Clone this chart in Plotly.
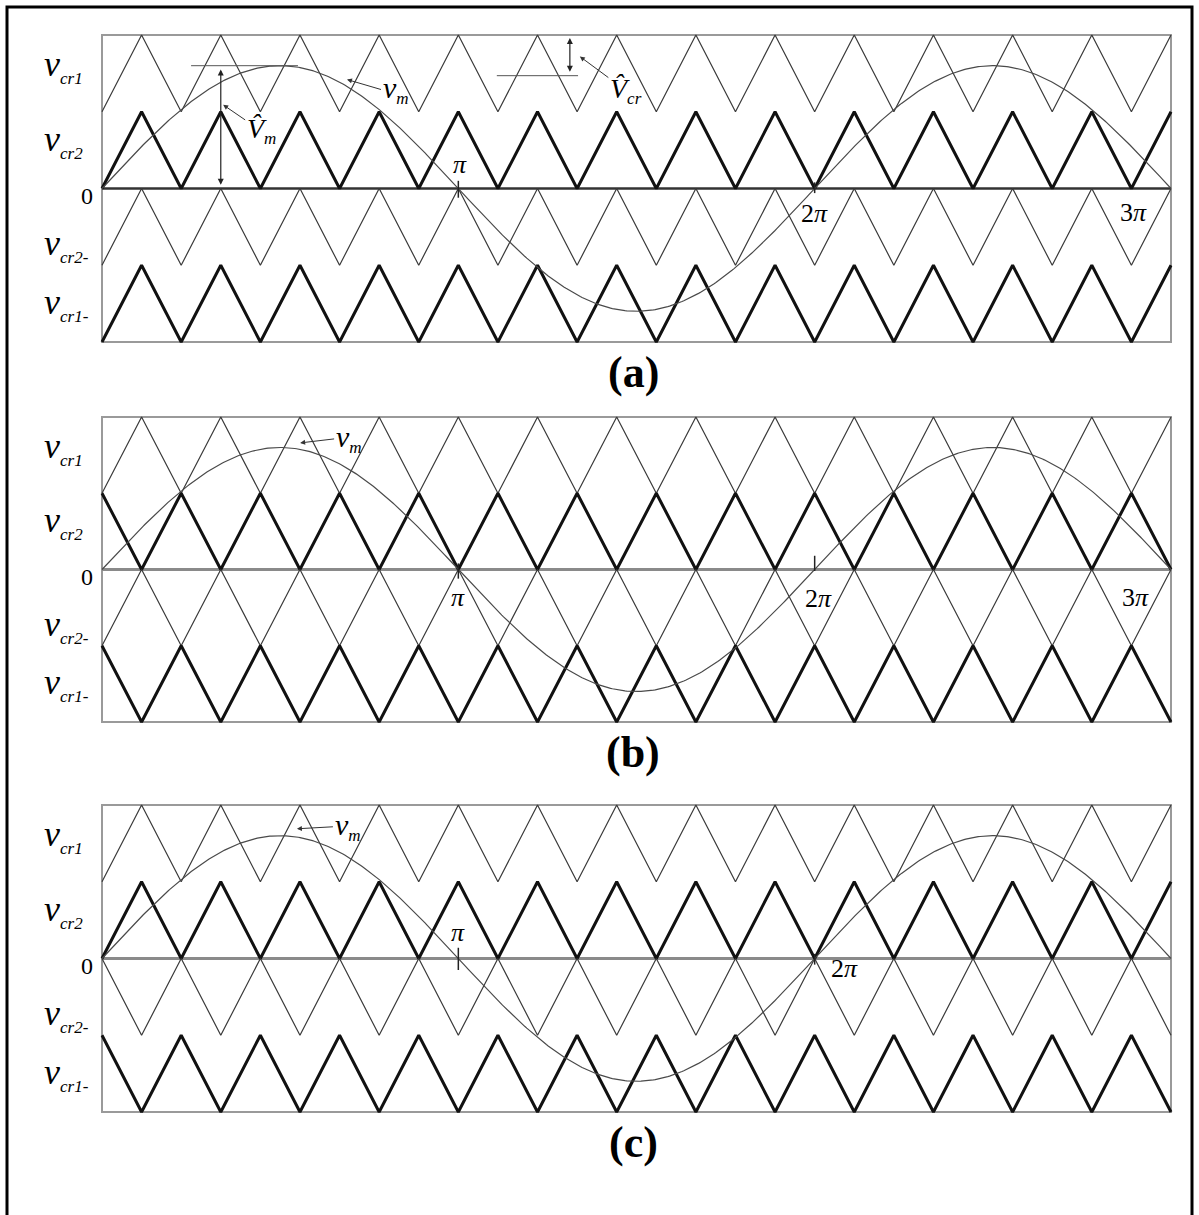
import numpy as np
import plotly.graph_objects as go

W, H = 1199, 1215
PI = np.pi

# carrier bands (lower, upper) and line style per carrier
CARRIERS = ["vcr1", "vcr2", "vcr2-", "vcr1-"]
BANDS = [(1, 2), (0, 1), (-1, 0), (-2, -1)]
THICK = [False, True, False, True]
LABELS = ["cr1", "cr2", "cr2-", "cr1-"]
LABEL_Y = [1.6, 0.62, -0.74, -1.5]

# phase of each carrier in each panel: 0 = starts at trough, 1 = starts at peak
PHASES = {
    "a": [0, 0, 0, 0],
    "b": [0, 1, 0, 1],
    "c": [0, 0, 1, 1],
}

MOD_AMPLITUDE = 1.6  # ma = 0.8 of the 2-unit band
FREQ_RATIO = 9  # mf
CYCLES = 1.5  # 0 .. 3pi

# panel pixel boxes (top, bottom) in the page
PANEL_TOP = {"a": 35, "b": 417, "c": 805}
PANEL_BOT = {"a": 342, "b": 722, "c": 1112}
X_LEFT, X_RIGHT = 102, 1171
PAD = 3

fig = go.Figure()

x_end = 2 * PI * CYCLES
n_half = int(round(2 * FREQ_RATIO * CYCLES))
half = x_end / n_half
tx = np.arange(n_half + 1) * half
theta = np.linspace(0, x_end, 600)
vm = MOD_AMPLITUDE * np.sin(theta)

axis_names = {"a": ("x", "y"), "b": ("x2", "y2"), "c": ("x3", "y3")}

for key, (xa, ya) in axis_names.items():
    for name, (lo, hi), thick, ph in zip(CARRIERS, BANDS, THICK, PHASES[key]):
        ty = np.where((np.arange(n_half + 1) + ph) % 2 == 0, lo, hi)
        fig.add_trace(
            go.Scatter(
                x=tx, y=ty, mode="lines", xaxis=xa, yaxis=ya, showlegend=False,
                hoverinfo="skip",
                line=dict(color="#111111" if thick else "#3a3a3a",
                          width=3 if thick else 1.2),
            )
        )
    fig.add_trace(
        go.Scatter(
            x=theta, y=vm, mode="lines", xaxis=xa, yaxis=ya, showlegend=False,
            hoverinfo="skip", line=dict(color="#4a4a4a", width=1.2),
        )
    )

px_per_rad = (X_RIGHT - X_LEFT) / x_end
xpad = PAD / px_per_rad
layout = dict(
    width=W, height=H, margin=dict(l=0, r=0, t=0, b=0),
    paper_bgcolor="white", plot_bgcolor="white",
    font=dict(family="Liberation Serif", color="black"),
)
for i, key in enumerate(["a", "b", "c"]):
    suf = "" if i == 0 else str(i + 1)
    top, bot = PANEL_TOP[key], PANEL_BOT[key]
    unit = (bot - top) / 4
    ypad = PAD / unit
    layout["xaxis" + suf] = dict(
        domain=[(X_LEFT - PAD) / W, (X_RIGHT + PAD) / W],
        range=[-xpad, x_end + xpad], visible=False, fixedrange=True,
        anchor="y" + suf,
    )
    layout["yaxis" + suf] = dict(
        domain=[1 - (bot + PAD) / H, 1 - (top - PAD) / H],
        range=[-2 - ypad, 2 + ypad], visible=False, fixedrange=True,
        anchor="x" + suf,
    )
fig.update_layout(**layout)

shapes = []
annotations = []
for i, key in enumerate(["a", "b", "c"]):
    suf = "" if i == 0 else str(i + 1)
    xr, yr = "x" + suf, "y" + suf
    # box and zero line
    shapes.append(dict(type="rect", xref=xr, yref=yr, x0=0, x1=x_end, y0=-2, y1=2,
                       line=dict(color="#9a9a9a", width=2), layer="below"))
    zl = dict(color="#333333", width=2.5) if key == "a" else dict(color="#8a8a8a", width=3)
    shapes.append(dict(type="line", xref=xr, yref=yr, x0=0, x1=x_end, y0=0, y1=0,
                       line=zl, layer="below"))
    for lab, ly in zip(LABELS, LABEL_Y):
        annotations.append(dict(
            xref="paper", yref=yr, x=42 / W, y=ly, xanchor="left", yanchor="middle",
            showarrow=False,
            text=f"<i>v</i><sub><span style='font-size:17px'><i>{lab}</i></span></sub>",
            font=dict(size=36, family="Liberation Serif"),
        ))
    annotations.append(dict(
        xref="paper", yref=yr, x=87 / W, y=-0.1, xanchor="center", yanchor="middle",
        showarrow=False, text="0", font=dict(size=24),
    ))
    # v_m label with arrow
    vm_pos = {"a": (0.6875 * PI, 1.42, 34, 10), "b": (0.556 * PI, 1.66, 34, -4),
              "c": (0.547 * PI, 1.69, 36, -2)}[key]
    annotations.append(dict(
        xref=xr, yref=yr, x=vm_pos[0], y=vm_pos[1], ax=vm_pos[2], ay=vm_pos[3],
        text="<i>v</i><sub><span style='font-size:17px'><i>m</i></span></sub>",
        font=dict(size=30), showarrow=True, arrowhead=2, arrowsize=1, arrowwidth=1,
        arrowcolor="#333", xanchor="left",
    ))

# panel (a) extra marks
shapes += [
    dict(type="line", xref="x", yref="y", x0=0.25 * PI, x1=0.55 * PI,
         y0=MOD_AMPLITUDE, y1=MOD_AMPLITUDE, line=dict(color="#555", width=1)),
    dict(type="line", xref="x", yref="y", x0=1.108 * PI, x1=1.336 * PI,
         y0=1.47, y1=1.47, line=dict(color="#555", width=1)),
]
annotations += [
    # V_m double arrow
    dict(xref="x", yref="y", axref="x", ayref="y", x=PI / 3, y=1.55, ax=PI / 3, ay=0.03,
         text="", showarrow=True, arrowhead=2, startarrowhead=2, arrowside="end+start",
         arrowsize=1, arrowwidth=1.2, arrowcolor="#222"),
    dict(xref="x", yref="y", x=0.34 * PI, y=1.09, ax=38, ay=26,
         text="<i>V̂</i><sub><span style='font-size:17px'><i>m</i></span></sub>",
         font=dict(size=28), showarrow=True, arrowhead=2, arrowwidth=1, arrowcolor="#333"),
    # V_cr double arrow
    dict(xref="x", yref="y", axref="x", ayref="y", x=1.313 * PI, y=1.96, ax=1.313 * PI,
         ay=1.5, text="", showarrow=True, arrowhead=2, startarrowhead=2,
         arrowside="end+start", arrowsize=1, arrowwidth=1.2, arrowcolor="#222"),
    dict(xref="x", yref="y", x=1.341 * PI, y=1.72, ax=46, ay=34,
         text="<i>V̂</i><sub><span style='font-size:17px'><i>cr</i></span></sub>",
         font=dict(size=28), showarrow=True, arrowhead=2, arrowwidth=1, arrowcolor="#333"),
]

# pi marks: (axis suffix, multiple of pi, text, label y, tick y0, tick y1, label x in pi)
PI_MARKS = [
    ("", 1, "<i>π</i>", 0.31, 0.1, -0.12, 1.005),
    ("", 2, "2<i>π</i>", -0.33, 0.08, -0.06, 2.0),
    ("", 3, "3<i>π</i>", -0.31, None, None, 2.895),
    ("2", 1, "<i>π</i>", -0.37, 0.08, -0.12, 1.0),
    ("2", 2, "2<i>π</i>", -0.38, 0.18, -0.02, 2.01),
    ("2", 3, "3<i>π</i>", -0.37, None, None, 2.9),
    ("3", 1, "<i>π</i>", 0.34, 0.14, -0.15, 1.0),
    ("3", 2, "2<i>π</i>", -0.13, 0.06, -0.08, 2.085),
]
for suf, k, txt, ly, t0, t1, lx in PI_MARKS:
    if t0 is not None:
        shapes.append(dict(type="line", xref="x" + suf, yref="y" + suf, x0=k * PI,
                           x1=k * PI, y0=t0, y1=t1, line=dict(color="#222", width=1.5)))
    annotations.append(dict(
        xref="x" + suf, yref="y" + suf, x=lx * PI, y=ly, showarrow=False, text=txt,
        xanchor="center", yanchor="middle", font=dict(size=26),
    ))

# panel captions
for key, cy in zip(["(a)", "(b)", "(c)"], [372, 752, 1142]):
    annotations.append(dict(
        xref="paper", yref="paper", x=633 / W, y=1 - cy / H, showarrow=False,
        text=f"<b>{key}</b>", font=dict(size=44), xanchor="center", yanchor="middle",
    ))

# outer frame (bottom edge falls outside the page)
shapes.append(dict(type="rect", xref="paper", yref="paper", x0=7 / W, x1=1192 / W,
                   y0=-0.05, y1=1 - 7 / H, line=dict(color="black", width=3)))

fig.update_layout(shapes=shapes, annotations=annotations, hovermode=False)
fig.write_html(
    "out.html",
    config={"displayModeBar": False, "staticPlot": True},
    post_script="document.body.style.margin='0';document.body.style.overflow='hidden';",
)
